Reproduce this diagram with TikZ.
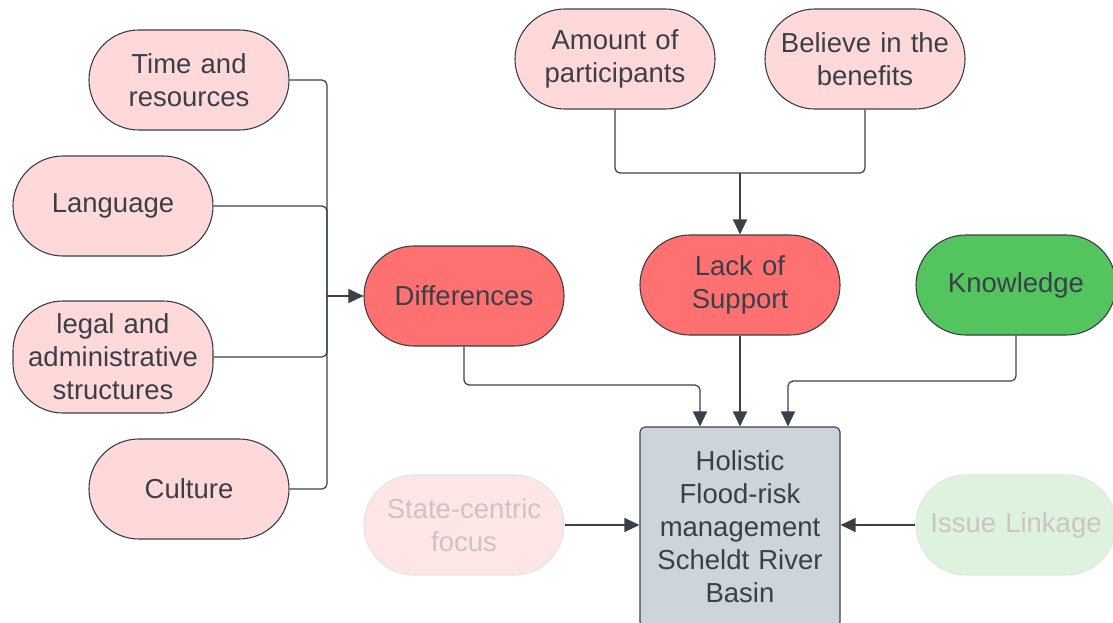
\documentclass[tikz,border=0pt]{standalone}
\usepackage{fontspec}
\setmainfont{Liberation Sans}
\usetikzlibrary{arrows.meta}
\definecolor{ink}{HTML}{3A4048}
\definecolor{lpink}{HTML}{FFD9D9}
\definecolor{redf}{HTML}{FF7070}
\definecolor{greenf}{HTML}{54C45E}
\definecolor{boxf}{HTML}{CED4DB}
\definecolor{fpink}{HTML}{FFE6E6}
\definecolor{fgreen}{HTML}{DEF3DE}
\definecolor{fstroke}{HTML}{E4E4E4}
\definecolor{ftext}{HTML}{CCC4C4}
\tikzset{
  pill/.style={draw=ink, line width=1.1pt, rounded corners=49.9pt, minimum width=200pt, minimum height=100pt,
    text width=196pt, align=center, inner sep=0pt, text=ink, font=\fontsize{27.5}{33}\selectfont},
  soft/.style={pill, fill=lpink},
  hot/.style={pill, fill=redf},
  good/.style={pill, fill=greenf},
  faded/.style={pill, draw=fstroke, text=ftext},
  core/.style={draw=ink, line width=1.1pt, rounded corners=5pt, fill=boxf, minimum width=200pt, minimum height=200pt,
    text width=196pt, align=center, inner sep=0pt, text=ink, font=\fontsize{27.5}{33}\selectfont},
  link/.style={draw=ink, line width=1.2pt, rounded corners=5pt},
  arr/.style={link, -{Triangle[length=15pt,width=14pt]}},
}
\begin{document}
\begin{tikzpicture}[x=1pt,y=-1pt]
\useasboundingbox (0,0) rectangle (1113,623);
\node[soft] (time) at (189,80) {Time and\\resources};
\node[soft] (lang) at (113,206) {Language};
\node[soft, minimum height=112pt] (legal) at (113,357) {legal and\\administrative\\structures};
\node[soft] (cult) at (189,489) {Culture};
\node[soft] (amount) at (615,59) {Amount of\\participants};
\node[soft] (believe) at (865,59) {Believe in the\\benefits};
\node[hot] (diff) at (464,296) {Differences};
\node[hot] (lack) at (740,285) {Lack of\\Support};
\node[good] (know) at (1016,285) {Knowledge};
\node[core] (core) at (740,527) {Holistic\\Flood-risk\\management\\Scheldt River\\Basin};
\node[faded, fill=fpink] (state) at (464,525) {State-centric\\focus};
\node[faded, fill=fgreen] (issue) at (1016,525) {Issue Linkage};
\coordinate (j) at (327,296);
\draw[link] (time.east) -| (j);
\draw[link] (lang.east) -| (j);
\draw[link] (legal.east) -| (j);
\draw[link] (cult.east) -| (j);
\draw[arr] (j) -- (diff.west);
\coordinate (k) at (740,173);
\draw[link] (amount.south) |- (k);
\draw[link] (believe.south) |- (k);
\draw[arr] (k) -- (lack.north);
\draw[arr] (diff.south) |- (700,385) -- ([xshift=-40pt]core.north);
\draw[arr] (lack.south) -- (core.north);
\draw[arr] (know.south) |- (788,381) -- ([xshift=48pt]core.north);
\draw[arr] (state.east) -- (core.west |- state.east);
\draw[arr] (issue.west) -- (core.east |- issue.west);
\end{tikzpicture}
\end{document}
